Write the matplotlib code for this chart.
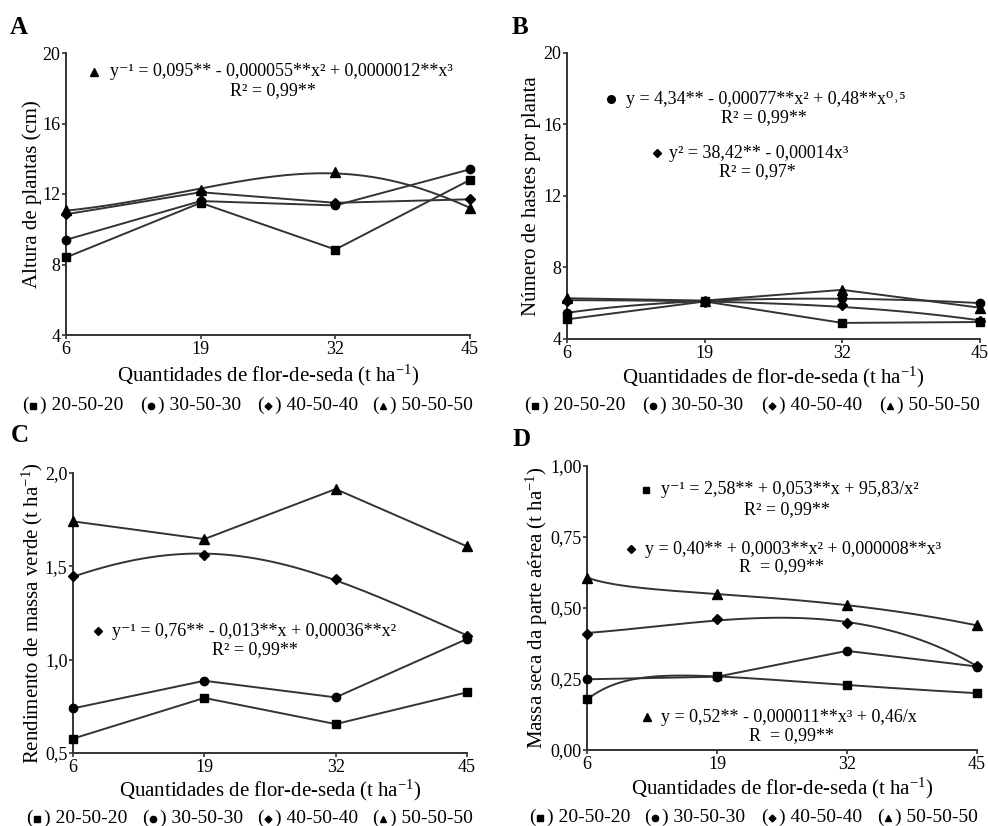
import numpy as np
import matplotlib
matplotlib.use("Agg")
import matplotlib.pyplot as plt
from matplotlib.lines import Line2D
from matplotlib.ticker import FixedLocator, FixedFormatter

plt.rcParams['font.family'] = ['Liberation Serif', 'DejaVu Serif']
plt.rcParams['mathtext.fontset'] = 'custom'
plt.rcParams['mathtext.rm'] = 'Liberation Serif'
plt.rcParams['mathtext.it'] = 'Liberation Serif:italic'
plt.rcParams['mathtext.bf'] = 'Liberation Serif:bold'

# ---------------- data ----------------
x_vals = [6, 19, 32, 45]
series_names = ['20-50-20', '30-50-30', '40-50-40', '50-50-50']

# A: Altura de plantas (cm)
a_sq = [8.4, 11.5, 8.85, 12.8]
a_ci = [9.4, 11.6, 11.35, 13.4]
a_di = [10.85, 12.1, 11.5, 11.7]
a_tr = [11.1, 12.2, 13.25, 11.2]

# B: Numero de hastes por planta
b_sq = [5.1, 6.1, 4.9, 4.95]
b_ci = [5.47, 6.1, 6.28, 6.0]
b_di = [6.15, 6.05, 5.9, 5.0]
b_tr = [6.28, 6.15, 6.75, 5.75]

# C: Rendimento de massa verde (t ha-1)
c_sq = [0.577, 0.795, 0.655, 0.825]
c_ci = [0.739, 0.887, 0.798, 1.111]
c_di = [1.446, 1.562, 1.43, 1.129]
c_tr = [1.741, 1.646, 1.914, 1.607]

# D: Massa seca da parte aerea (t ha-1)
d_sq = [0.178, 0.259, 0.229, 0.200]
d_ci = [0.249, 0.258, 0.349, 0.294]
d_di = [0.410, 0.460, 0.448, 0.296]
d_tr = [0.607, 0.550, 0.509, 0.439]

a_yticks = [4, 8, 12, 16, 20]
a_ylabels = ['4', '8', '12', '16', '20']
c_yticks = [0.5, 1.0, 1.5, 2.0]
c_ylabels = ['0,5', '1,0', '1,5', '2,0']
d_yticks = [0.0, 0.25, 0.5, 0.75, 1.0]
d_ylabels = ['0,00', '0,25', '0,50', '0,75', '1,00']
x_ticklabels = ['6', '19', '32', '45']

# ---------------- helpers ----------------
W, H = 988, 826
fig = plt.figure(figsize=(W / 100, H / 100), dpi=100)
LC = '#333333'
EQ_FS = 13


def P(px, py):
    return (px / W, 1 - py / H)


def make_ax(left, top, width, height):
    return fig.add_axes([left / W, 1 - (top + height) / H, width / W, height / H])


MK = {'s': dict(marker='s', ms=5.5), 'o': dict(marker='o', ms=6),
      'D': dict(marker='D', ms=5), '^': dict(marker='^', ms=7)}

# basis functions for the regression models
MODELS = {
    'inv_x2_x3': (lambda x: np.column_stack([np.ones_like(x), x**2, x**3]), lambda y: 1 / y, lambda z: 1 / z),
    'x2_sqrt': (lambda x: np.column_stack([np.ones_like(x), x**2, np.sqrt(x)]), lambda y: y, lambda z: z),
    'sq_x3': (lambda x: np.column_stack([np.ones_like(x), x**3]), lambda y: y**2, lambda z: np.sqrt(z)),
    'inv_x_x2': (lambda x: np.column_stack([np.ones_like(x), x, x**2]), lambda y: 1 / y, lambda z: 1 / z),
    'inv_x_invx2': (lambda x: np.column_stack([np.ones_like(x), x, 1 / x**2]), lambda y: 1 / y, lambda z: 1 / z),
    'x2_x3': (lambda x: np.column_stack([np.ones_like(x), x**2, x**3]), lambda y: y, lambda z: z),
    'x3_invx': (lambda x: np.column_stack([np.ones_like(x), x**3, 1 / x]), lambda y: y, lambda z: z),
}


def draw_series(ax, y, mk, model=None):
    x = np.array(x_vals, float)
    y = np.array(y, float)
    if model is None:
        ax.plot(x, y, color=LC, lw=1.4, clip_on=False, zorder=2)
    else:
        basis, fwd, inv = MODELS[model]
        coef, *_ = np.linalg.lstsq(basis(x), fwd(y), rcond=None)
        xs = np.linspace(x.min(), x.max(), 200)
        ax.plot(xs, inv(basis(xs) @ coef), color=LC, lw=1.4, clip_on=False, zorder=2)
    ax.plot(x, y, ls='none', color='black', clip_on=False, zorder=3, **MK[mk])


def style_ax(ax, yticks, ylabels, ylim, ylabel, ylab_x, xlab_y):
    ax.set_xlim(6, 45)
    ax.set_ylim(*ylim)
    for s in ['top', 'right']:
        ax.spines[s].set_visible(False)
    for s in ['left', 'bottom']:
        ax.spines[s].set_color(LC)
        ax.spines[s].set_linewidth(1.4)
    ax.xaxis.set_major_locator(FixedLocator(x_vals))
    ax.xaxis.set_major_formatter(FixedFormatter(x_ticklabels))
    ax.yaxis.set_major_locator(FixedLocator(yticks))
    ax.yaxis.set_major_formatter(FixedFormatter(ylabels))
    ax.tick_params(axis='both', direction='out', length=3, width=1.2, color=LC,
                   labelsize=13, pad=1)
    ax.set_ylabel(ylabel, fontsize=15)
    ax.yaxis.label.set_va('center')
    ax.yaxis.set_label_coords(ylab_x, 0.5)
    ax.set_xlabel('Quantidades de flor-de-seda (t ha$^{-1}$)', fontsize=15)
    ax.xaxis.label.set_va('center')
    ax.xaxis.set_label_coords(0.5, xlab_y)


def fig_marker(px, py, mk, ms):
    fx, fy = P(px, py)
    fig.add_artist(Line2D([fx], [fy], marker=mk, ms=ms, color='black', ls='none',
                          transform=fig.transFigure))


def equation(mk, mpx, tpx, py, text, rtext, rpx, rpy):
    ms = {'s': 5, 'o': 5.5, 'D': 4.5, '^': 6}[mk]
    fig_marker(mpx, py, mk, ms)
    fig.text(*P(tpx, py), text, fontsize=EQ_FS, ha='left', va='center')
    fig.text(*P(rpx, rpy), rtext, fontsize=EQ_FS, ha='center', va='center')


def legend_row(starts, py):
    mks = ['s', 'o', 'D', '^']
    sizes = [4, 4.5, 3.5, 5]
    for xs, mk, ms, name in zip(starts, mks, sizes, series_names):
        fig.text(*P(xs, py), '(', fontsize=14, ha='left', va='center')
        fig_marker(xs + 11, py + 1, mk, ms)
        fig.text(*P(xs + 18, py), ') ' + name, fontsize=14, ha='left', va='center')


# ---------------- Panel A ----------------
axA = make_ax(66, 53, 404, 282)
draw_series(axA, a_sq, 's')
draw_series(axA, a_ci, 'o')
draw_series(axA, a_di, 'D')
draw_series(axA, a_tr, '^', 'inv_x2_x3')
style_ax(axA, a_yticks, a_ylabels, (4, 20), 'Altura de plantas (cm)', -0.084, -0.142)
equation('^', 94, 110, 72,
         'y⁻¹ = 0,095** - 0,000055**x² + 0,0000012**x³',
         'R² = 0,99**', 273, 91)
fig.text(*P(10, 27), 'A', fontsize=18, fontweight='bold', ha='left', va='center')
legend_row([22, 140, 257, 372], 405)

# ---------------- Panel B ----------------
axB = make_ax(567, 53, 413, 286)
draw_series(axB, b_sq, 's')
draw_series(axB, b_ci, 'o', 'x2_sqrt')
draw_series(axB, b_di, 'D', 'sq_x3')
draw_series(axB, b_tr, '^')
style_ax(axB, a_yticks, a_ylabels, (4, 20), 'Número de hastes por planta', -0.085, -0.133)
equation('o', 611, 626, 99,
         'y = 4,34** - 0,00077**x² + 0,48**x⁰˒⁵',
         'R² = 0,99**', 764, 118)
equation('D', 657, 669, 153,
         'y² = 38,42** - 0,00014x³',
         'R² = 0,97*', 757, 172)
fig.text(*P(512, 27), 'B', fontsize=18, fontweight='bold', ha='left', va='center')
legend_row([524, 642, 761, 879], 405)

# ---------------- Panel C ----------------
axC = make_ax(73, 473, 394, 280)
draw_series(axC, c_sq, 's')
draw_series(axC, c_ci, 'o')
draw_series(axC, c_di, 'D', 'inv_x_x2')
draw_series(axC, c_tr, '^')
style_ax(axC, c_yticks, c_ylabels, (0.5, 2.0), 'Rendimento de massa verde (t ha$^{-1}$)', -0.102, -0.132)
equation('D', 98, 112, 631,
         'y⁻¹ = 0,76** - 0,013**x + 0,00036**x²',
         'R² = 0,99**', 255, 650)
fig.text(*P(11, 436), 'C', fontsize=18, fontweight='bold', ha='left', va='center')
legend_row([26, 142, 257, 372], 818)

# ---------------- Panel D ----------------
axD = make_ax(587, 466, 390, 284)
draw_series(axD, d_sq, 's', 'inv_x_invx2')
draw_series(axD, d_ci, 'o')
draw_series(axD, d_di, 'D', 'x2_x3')
draw_series(axD, d_tr, '^', 'x3_invx')
style_ax(axD, d_yticks, d_ylabels, (0.0, 1.0), 'Massa seca da parte aérea (t ha$^{-1}$)', -0.128, -0.134)
equation('s', 646, 661, 490,
         'y⁻¹ = 2,58** + 0,053**x + 95,83/x²',
         'R² = 0,99**', 787, 510)
equation('D', 631, 645, 549,
         'y = 0,40** + 0,0003**x² + 0,000008**x³',
         'R  = 0,99**', 781, 567)
equation('^', 647, 661, 717,
         'y = 0,52** - 0,000011**x³ + 0,46/x',
         'R  = 0,99**', 791, 736)
fig.text(*P(512, 440), 'D', fontsize=18, fontweight='bold', ha='left', va='center')
legend_row([529, 644, 761, 877], 817)

fig.savefig('out.png', dpi=100)
